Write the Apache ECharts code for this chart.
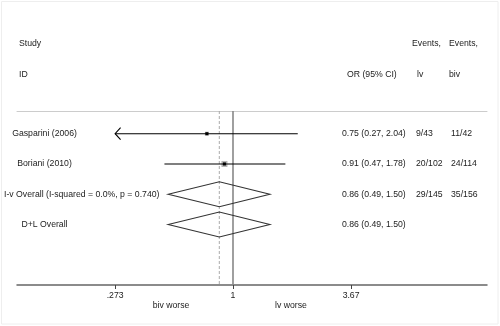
<!DOCTYPE html>
<html>
<head>
<meta charset="utf-8">
<script src="https://cdn.jsdelivr.net/npm/echarts/dist/echarts.min.js"></script>
<style>
html,body{margin:0;padding:0;background:#fff;}
#chart{width:500px;height:326px;}
</style>
</head>
<body>
<div id="chart"></div>
<script>
// ---- data ----
const studyNames = ['Gasparini (2006)', 'Boriani (2010)'];
const studyOR = [0.75, 0.91];
const studyLow = [0.27, 0.47];
const studyHigh = [2.04, 1.78];
const studyWeight = [30.3, 69.7];
const studyEventsLv = ['9/43', '20/102'];
const studyEventsBiv = ['11/42', '24/114'];

const pooledNames = ['I-v Overall (I-squared = 0.0%, p = 0.740)', 'D+L Overall'];
const pooledOR = [0.86, 0.86];
const pooledLow = [0.49, 0.49];
const pooledHigh = [1.50, 1.50];
const pooledEventsLv = ['29/145', ''];
const pooledEventsBiv = ['35/156', ''];

const tickValues = [0.273, 1, 3.67];
const tickLabels = ['.273', '1', '3.67'];
const leftLabel = 'biv worse';
const rightLabel = 'lv worse';

// ---- layout constants ----
const FONT = 'Liberation Sans, Arial, Helvetica, sans-serif';
const FS = 8.7;
const TXT = '#222';
const X_OR_TEXT = 342;
const X_EV_LV = 416;
const X_EV_BIV = 451;
const PX_PER_LN = 90.82;
const X_NULL = 233;
const GRID_L = 17, GRID_R = 487;
const xMin = (GRID_L - X_NULL) / PX_PER_LN;
const xMax = (GRID_R - X_NULL) / PX_PER_LN;
const fmt = v => v.toFixed(2);

const studyRows = studyNames.map((n, i) => [i + 1, studyOR[i], studyLow[i], studyHigh[i], studyWeight[i]]);
const pooledRows = pooledNames.map((n, i) => [studyNames.length + i + 1, pooledOR[i], pooledLow[i], pooledHigh[i]]);
const labelPos = [[44.5, 'center'], [44.5, 'center'], [4, 'left'], [44.5, 'center']];

function txt(x, y, s, align) {
  return { type: 'text', style: { x: x, y: y, text: s, fill: TXT, font: FS + 'px ' + FONT, textAlign: align || 'left', textVerticalAlign: 'middle' } };
}

function rowTexts(rowIdx, y, name, orv, lo, hi, evLv, evBiv) {
  const lp = labelPos[rowIdx];
  const out = [txt(lp[0], y, name, lp[1])];
  out.push(txt(X_OR_TEXT, y, fmt(orv) + ' (' + fmt(lo) + ', ' + fmt(hi) + ')'));
  if (evLv) out.push(txt(X_EV_LV, y, evLv));
  if (evBiv) out.push(txt(X_EV_BIV, y, evBiv));
  return out;
}

function renderStudy(params, api) {
  const i = params.dataIndex;
  const row = api.value(0), orv = api.value(1), lo = api.value(2), hi = api.value(3), w = api.value(4);
  const clip = tickValues[0];
  const loC = Math.max(lo, clip);
  const p0 = api.coord([Math.log(loC), row]);
  const p1 = api.coord([Math.log(hi), row]);
  const pc = api.coord([Math.log(orv), row]);
  const y = p0[1];
  const box = 7.2 * Math.sqrt(w / 100);
  const children = [];
  children.push({ type: 'rect', shape: { x: pc[0] - box / 2, y: y - box / 2, width: box, height: box }, style: { fill: '#b4b4b4' } });
  children.push({ type: 'line', shape: { x1: p0[0], y1: y, x2: p1[0], y2: y }, style: { stroke: '#000', lineWidth: 1.1 } });
  if (lo < clip) {
    children.push({ type: 'polyline', shape: { points: [[p0[0] + 5.5, y - 6], [p0[0], y], [p0[0] + 5.5, y + 6]] }, style: { stroke: '#000', lineWidth: 1.1, fill: 'none' } });
  }
  children.push({ type: 'rect', shape: { x: pc[0] - 1.5, y: y - 1.5, width: 3, height: 3 }, style: { fill: '#000' } });
  return { type: 'group', children: children.concat(rowTexts(i, y, studyNames[i], orv, lo, hi, studyEventsLv[i], studyEventsBiv[i])) };
}

function renderPooled(params, api) {
  const i = params.dataIndex;
  const row = api.value(0), orv = api.value(1), lo = api.value(2), hi = api.value(3);
  const pl = api.coord([Math.log(lo), row]);
  const ph = api.coord([Math.log(hi), row]);
  const pc = api.coord([Math.log(orv), row]);
  const y = pc[1];
  const hh = 12.5;
  const children = [{
    type: 'polygon',
    shape: { points: [[pl[0], y], [pc[0], y - hh], [ph[0], y], [pc[0], y + hh]] },
    style: { fill: 'none', stroke: '#333', lineWidth: 1.1 }
  }];
  return { type: 'group', children: children.concat(rowTexts(studyNames.length + i, y, pooledNames[i], orv, lo, hi, pooledEventsLv[i], pooledEventsBiv[i])) };
}

const yMin = 0.25, yMax = 6;

function renderRef(params, api) {
  const x = api.value(0);
  const top = api.coord([x, yMin]);
  const bot = api.coord([x, yMax]);
  const dashed = api.value(1) === 1;
  return {
    type: 'line',
    shape: { x1: top[0], y1: top[1], x2: bot[0], y2: bot[1] },
    style: dashed ? { stroke: '#aaa', lineWidth: 1, lineDash: [3, 2] } : { stroke: '#888', lineWidth: 1.6 }
  };
}

const chart = echarts.init(document.getElementById('chart'), null, { renderer: 'canvas' });
chart.setOption({
  animation: false,
  backgroundColor: '#fff',
  grid: { left: GRID_L, right: 500 - GRID_R, top: 111, bottom: 326 - 285 },
  xAxis: [{
    type: 'value', min: xMin, max: xMax,
    axisLine: { show: true, lineStyle: { color: '#666', width: 1.5 } },
    axisTick: { show: true, customValues: tickValues.map(Math.log), length: 4, lineStyle: { color: '#444', width: 1 } },
    axisLabel: {
      show: true, customValues: tickValues.map(Math.log), margin: 6.5,
      color: TXT, fontSize: FS, fontFamily: FONT,
      formatter: v => { let best = 0; tickValues.forEach((t, k) => { if (Math.abs(Math.log(t) - v) < Math.abs(Math.log(tickValues[best]) - v)) best = k; }); return tickLabels[best]; }
    },
    splitLine: { show: false }
  }, {
    type: 'value', position: 'top', min: xMin, max: xMax,
    axisLine: { show: true, lineStyle: { color: '#ccc', width: 1 } },
    axisTick: { show: false }, axisLabel: { show: false }, splitLine: { show: false }
  }],
  yAxis: { type: 'value', inverse: true, min: yMin, max: yMax, show: false },
  graphic: [
    { type: 'rect', shape: { x: 1.5, y: 1.5, width: 496.5, height: 322.5 }, style: { fill: 'none', stroke: '#eee', lineWidth: 1 } },
    txt(19, 44, 'Study'),
    txt(19, 75, 'ID'),
    txt(412, 44, 'Events,'),
    txt(449, 44, 'Events,'),
    txt(347, 75, 'OR (95% CI)'),
    txt(417, 75, 'lv'),
    txt(449, 75, 'biv'),
    txt(171, 306, leftLabel, 'center'),
    txt(291, 306, rightLabel, 'center')
  ],
  series: [
    { type: 'custom', renderItem: renderRef, data: [[0, 0], [Math.log(pooledOR[1]), 1]], clip: false, z: 1 },
    { type: 'custom', renderItem: renderStudy, data: studyRows, clip: false, z: 3 },
    { type: 'custom', renderItem: renderPooled, data: pooledRows, clip: false, z: 3 }
  ]
});
</script>
</body>
</html>
